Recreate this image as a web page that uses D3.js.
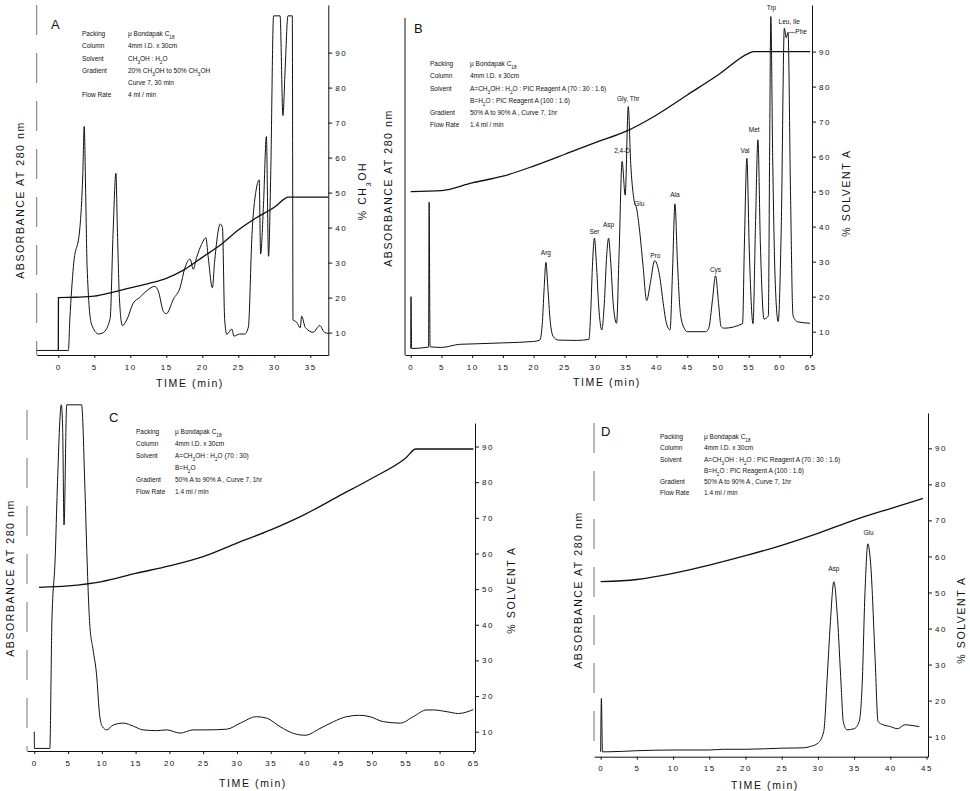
<!DOCTYPE html>
<html>
<head>
<meta charset="utf-8">
<script src="https://cdn.jsdelivr.net/npm/d3@7"></script>
<style>
  body { margin: 0; background: #fff; }
  svg { display: block; }
  text { font-family: "Liberation Sans", "DejaVu Sans", Arial, sans-serif; fill: #111; }
  .tick text { font-size: 8px; letter-spacing: 1.5px; }
  .tick line, .domain { stroke: #111; stroke-width: 1; }
  .info { font-size: 6.5px; }
  .axlab { font-size: 10.5px; letter-spacing: 1.6px; }
  .pk { font-size: 6.5px; }
</style>
</head>
<body>
<script>
// panel A : absorbance trace and % CH3OH gradient, [time min, value]
var absA = [[-3,4.9],[0,4.9],[1.4,4.9],[1.6,13.6],[2.1,28.9],[3,40],[3.4,55],[3.6,68.9],[3.8,50],[4,28.9],[4.6,12.5],
    [5.6,9.6],[6.25,10],[7.2,14],[7.6,38],[8.0,55.5],[8.2,40],[8.5,19.3],[8.9,12],[9.5,13.6],[10.4,18.4],[11.3,20],
    [12.3,22],[13.4,23.2],[13.9,21.8],[14.6,16],[15,15.4],[16,19.6],[16.9,22.8],[17.6,28.6],[18.3,31],[18.75,28.1],
    [19.2,31.4],[19.9,35.2],[20.5,37.1],[20.8,32],[21.4,22.8],[21.7,30],[22.5,41],[22.8,40],[23.1,14],[23.4,9.5],
    [24.1,11],[24.4,9],[25.2,9.6],[25.9,9.6],[26.4,11.6],[26.9,38],[27.5,51],[27.9,53.6],[28.1,32.5],[28.5,46.6],
    [28.9,66],[29.2,31.8],[29.5,55],[29.9,100.5],[30.8,100.5],[31.2,72],[31.5,85],[31.9,100.5],[32.5,100.5],
    [32.6,13.6],[33.1,13],[33.6,11.4],[33.8,14.7],[34.3,11.5],[35.4,10.1],[36.3,12],[37,10],[37.5,9.8]];
var gradA = [[0,4.9],[0.02,20],[2.5,20.1],[5,20.4],[7.5,21.5],[10,22.8],[12.5,24],[15,25.5],[17.5,28],[20,31.5],[22.5,35],
    [25,39.3],[27.5,42.8],[30,45.8],[32,48.7],[37.5,48.7]];

// panel B : amino acid separation with PIC reagent
var absB = [[0,5.2],[0.05,20],[0.15,5.2],[2.9,5.6],[3.0,47],[3.15,5.7],[5,5.5],[8,6.4],[10,6.5],[15,6.8],[20,7.2],[21,7.6],
    [21.4,12],[21.7,22],[22,29.8],[22.3,23],[22.7,13],[23.2,8.6],[24,7.6],[27,7.5],[29,7.8],[29.3,16],[29.6,30],
    [29.9,36.7],[30.2,30],[30.6,17],[31.1,10.5],[31.5,18],[31.9,32],[32.2,36.7],[32.5,31],[33,17],[33.5,12.4],
    [33.9,32],[34.4,58.6],[34.9,49],[35.4,74.3],[35.8,58],[36.3,48],[36.8,44.8],[37.3,38],[37.8,28.9],[38.4,18.9],
    [39,24],[39.7,30.3],[40.5,26],[41.1,18],[41.6,12.5],[42.2,10.5],[42.6,27],[43,46.5],[43.4,30],[43.9,15],[44.5,11],
    [45,10],[48,10],[48.5,11],[49.1,19],[49.6,26],[50.1,18],[50.5,11.5],[51,11],[54,12.3],[54.3,35],[54.7,59.5],
    [55.1,33],[55.7,12.3],[56.1,40],[56.5,64.8],[56.9,35],[57.5,13.6],[58.2,14.5],[58.4,60],[58.6,100],[58.9,60],
    [59.3,25],[59.8,12.9],[60.3,40],[60.8,96.7],[61.1,94],[61.4,95.5],[61.8,50],[62.2,14.8],[62.5,13.5],[63,12.8],[65,12.4]];
var gradB = [[0,50],[5,50.3],[10,52.5],[15,54.4],[20,57.3],[25,60.6],[30,64],[35,67.2],[40,71.9],[45,77.6],[50,83.3],
    [55,89.5],[55.8,90],[65,90]];
var peaksB = ['Arg','Ser','Asp','2,4-D','Gly, Thr','Glu','Pro','Ala','Cys','Val','Met','Trp','Leu, Ile','\u2014Phe'];
var peakTimesB = [22, 29.9, 32.2, 34.4, 35.4, 37.2, 39.8, 43, 49.6, 54.4, 55.9, 58.7, 61.6, 63.0];
var peakLevelsB = [32, 38, 40, 61, 76, 46, 31, 48.5, 27, 61, 67, 102, 98, 95];

// panel C : PIC reagent omitted
var absC = [[0,10],[0.02,5.3],[2.3,5.3],[2.6,40.4],[3.1,59.1],[3.4,77.8],[4.0,101.7],[4.2,95],[4.4,68],[4.8,101.7],
    [7.0,101.7],[7.5,78],[7.8,59],[8.2,40.4],[8.7,33],[9.2,26.4],[9.7,14.2],[10.1,11.4],[10.7,10.5],[11.7,11.9],
    [13.2,12.4],[14.7,11.5],[16.1,10.5],[18.1,10.3],[19.6,10.5],[21.6,9.6],[23.5,10.5],[25.5,10.5],[28.5,10.7],
    [30.5,12.4],[32.9,14.2],[34.4,13.8],[36.4,11.4],[38.4,9.5],[40.1,9.0],[42.3,10.9],[44.3,12.8],[46.2,14.2],
    [48.2,14.6],[49.7,14.2],[51.7,12.8],[54.2,12.4],[56.1,14.2],[58.1,16.1],[59.1,16.1],[61.1,15.6],[62.8,15.1],[65,16.2]];
var gradC = [[0.7,50.5],[5,50.9],[10,52.1],[15,54.4],[20,56.5],[25,59.1],[30,62.9],[35,66.6],[40,70.9],[45,76],
    [50,81.1],[55,86.8],[56.5,89.3],[65,89.3]];

// panel D : Asp and Glu only
var absD = [[0,5.8],[0.1,20.6],[0.25,5.8],[1,5.8],[5,6.1],[10,6.3],[15,6.3],[17,6.5],[20,6.5],[25,6.8],[28,6.9],[29,7.3],
    [30,8.2],[30.8,11.4],[31.3,27.1],[31.7,41],[32.2,53],[32.7,43],[33.2,24.4],[33.5,14.2],[34,11.9],[35,12.2],
    [35.7,14.2],[36.1,24],[36.5,50.1],[36.9,63.5],[37.3,57.4],[37.9,31.5],[38.3,14.2],[39,13.3],[40,12.8],[41,12.2],
    [42,13.3],[43,13.1],[44,12.8]];
var gradD = [[0,53],[5,53.6],[10,55.3],[15,57.6],[20,60.2],[25,63.1],[30,66.4],[35,70.1],[40,73.3],[44.5,76.1]];
var peaksD = ['Asp','Glu'];
var peakTimesD = [32.2, 37];
var peakLevelsD = [56, 66];

var ticksY = [10,20,30,40,50,60,70,80,90];

var infoA = [['Packing','\u03bc Bondapak C|18|'],['Column','4mm I.D. x 30cm'],['Solvent','CH|3|OH : H|2|O'],
    ['Gradient','20% CH|3|OH to 50% CH|3|OH'],['','Curve 7, 30 min'],['Flow Rate','  4 ml / min']];
var infoB = [['Packing','\u03bc Bondapak C|18|'],['Column','4mm I.D. x 30cm'],['Solvent','A=CH|3|OH : H|2|O : PIC Reagent A (70 : 30 : 1.6)'],
    ['','B=H|2|O : PIC Reagent A (100 : 1.6)'],['Gradient','50% A to 90% A , Curve 7, 1hr'],['Flow Rate','1.4 ml / min']];
var infoC = [['Packing','\u03bc Bondapak C|18|'],['Column','4mm I.D. x 30cm'],['Solvent','A=CH|3|OH : H|2|O (70 : 30)'],
    ['','B=H|2|O'],['Gradient','50% A to 90% A , Curve 7, 1hr'],['Flow Rate','1.4 ml / min']];
var infoD = infoB;

var svg = d3.select('body').append('svg').attr('width', 970).attr('height', 791);

drawPanel({ letter: 'A', abs: absA, grad: gradA, xd: [-3, 37.5], xr: [36.7, 328.3], xticks: d3.range(0, 36, 5),
    yd: [3.6, 103.6], yr: [355, 5], leftTop: 5, leftDash: true, right: '% CH|3|OH', rightX: 362, rightY: 191,
    leftX: 20, leftY: 200, timeX: 190, timeY: 387, letterXY: [51, 29],
    info: infoA, infoX: [82, 128], infoY: [36, 48, 61, 73, 85, 97] });

drawPanel({ letter: 'B', abs: absB, grad: gradB, xd: [-0.93, 65.3], xr: [405, 812], xticks: d3.range(0, 66, 5),
    yd: [3.34, 103.3], yr: [355, 5], leftTop: 18, right: '% SOLVENT A', rightX: 846, rightY: 193,
    leftX: 388, leftY: 188, timeX: 607, timeY: 386, letterXY: [414, 33],
    info: infoB, infoX: [430, 470], infoY: [66, 78, 91, 103, 115, 127],
    peaks: peaksB, peakTimes: peakTimesB, peakLevels: peakLevelsB });

drawPanel({ letter: 'C', abs: absC, grad: gradC, xd: [-1.08, 65.25], xr: [27, 475], xticks: d3.range(0, 66, 5),
    yd: [4.58, 96.6], yr: [751, 423], leftTop: 410, leftDash: true, right: '% SOLVENT A', rightX: 511, rightY: 590,
    leftX: 10, leftY: 578, timeX: 253, timeY: 787, letterXY: [109, 422],
    info: infoC, infoX: [136, 175], infoY: [434, 446, 458, 470, 482, 494] });

drawPanel({ letter: 'D', abs: absD, grad: gradD, xd: [-0.92, 45.2], xr: [594, 928], xticks: d3.range(0, 46, 5),
    yd: [4.44, 99.8], yr: [756.7, 413], leftTop: 423, leftDash: true, right: '% SOLVENT A', rightX: 961, rightY: 620,
    leftX: 578, leftY: 590, timeX: 765, timeY: 789, letterXY: [601, 436],
    info: infoD, infoX: [660, 704], infoY: [439, 450, 462, 473, 484, 495],
    peaks: peaksD, peakTimes: peakTimesD, peakLevels: peakLevelsD });

// text with |sub| markers written as subscripts
function richText(sel, str) {
    str.split('|').forEach(function(part, i) {
        if (part === '') return;
        var t = sel.append('tspan').text(part);
        if (i % 2 === 1) t.attr('baseline-shift', 'sub').style('font-size', '72%');
    });
    return sel;
}

function drawPanel(p) {
    var g = svg.append('g'),
        x = d3.scaleLinear().domain(p.xd).range(p.xr),
        y = d3.scaleLinear().domain(p.yd).range(p.yr),
        line = d3.line().curve(d3.curveMonotoneX)
            .x(function(d) { return x(d[0]); }).y(function(d) { return y(d[1]); });

    // time axis
    g.append('g').attr('transform', 'translate(0,' + p.yr[0] + ')')
        .call(d3.axisBottom(x).tickValues(p.xticks).tickSize(3).tickSizeOuter(0).tickPadding(6));

    // right % axis
    g.append('g').attr('transform', 'translate(' + p.xr[1] + ',0)')
        .call(d3.axisRight(y).tickValues(ticksY).tickSize(4).tickSizeOuter(0).tickPadding(3));

    // left absorbance axis, no ticks
    g.append('line').attr('x1', p.xr[0]).attr('x2', p.xr[0]).attr('y1', p.leftTop).attr('y2', p.yr[0])
        .attr('stroke', p.leftDash ? '#777' : '#111').attr('stroke-width', 1)
        .attr('stroke-dasharray', p.leftDash ? '30,18' : null);

    g.append('path').datum(p.grad).attr('d', line)
        .attr('fill', 'none').attr('stroke', '#111').attr('stroke-width', 1.3);
    g.append('path').datum(p.abs).attr('d', line)
        .attr('fill', 'none').attr('stroke', '#111').attr('stroke-width', 1);

    g.append('text').attr('x', p.letterXY[0]).attr('y', p.letterXY[1]).style('font-size', '13px').text(p.letter);

    g.append('text').attr('class', 'axlab')
        .attr('transform', 'translate(' + p.leftX + ',' + p.leftY + ') rotate(-90)')
        .attr('text-anchor', 'middle').attr('dy', '0.35em').text('ABSORBANCE  AT  280 nm');
    richText(g.append('text').attr('class', 'axlab')
        .attr('transform', 'translate(' + p.rightX + ',' + p.rightY + ') rotate(-90)')
        .attr('text-anchor', 'middle').attr('dy', '0.35em'), p.right);
    g.append('text').attr('class', 'axlab').attr('x', p.timeX).attr('y', p.timeY)
        .attr('text-anchor', 'middle').text('TIME  (min)');

    p.info.forEach(function(row, i) {
        g.append('text').attr('class', 'info').attr('x', p.infoX[0]).attr('y', p.infoY[i]).text(row[0]);
        richText(g.append('text').attr('class', 'info').attr('x', p.infoX[1]).attr('y', p.infoY[i]), row[1]);
    });

    if (p.peaks) {
        p.peaks.forEach(function(name, i) {
            g.append('text').attr('class', 'pk').attr('text-anchor', 'middle')
                .attr('x', x(p.peakTimes[i])).attr('y', y(p.peakLevels[i])).text(name);
        });
    }
}
</script>
</body>
</html>
